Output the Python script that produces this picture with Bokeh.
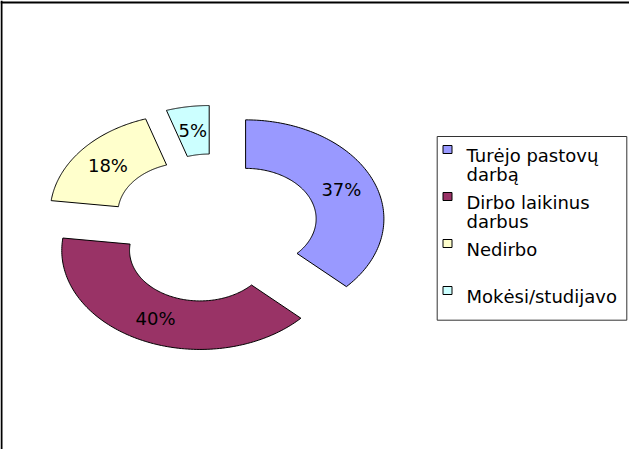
import numpy as np
from bokeh.plotting import figure
from bokeh.models import Range1d, Span
from bokeh.core.properties import value
from bokeh.embed import file_html
from bokeh.resources import INLINE

# ---- data ----
categories = ["Turėjo pastovų\ndarbą", "Dirbo laikinus\ndarbus", "Nedirbo", "Mokėsi/studijavo"]
values = [37, 40, 18, 5]
colors = ["#9999FF", "#993366", "#FFFFCC", "#CCFFFF"]
pct_labels = [f"{v}%" for v in values]

# ---- layout constants ----
W, H = 629, 449
SX, SY = 138.3, 99.0        # px per data unit (horizontal / vertical)
CX, CY = 214.0, 228.0       # donut centre in frame px (from top-left)
HOLE = 0.51
EXPLODE = 0.245
FONT = value("DejaVu Sans")
FSIZE = "18px"

x0 = -CX / SX
x1 = (W - CX) / SX
y1 = CY / SY
y0 = -(H - CY) / SY


def dx(px):
    return x0 + px / SX


def dy(py):
    return y1 - py / SY


p = figure(width=W, height=H, x_range=Range1d(x0, x1), y_range=Range1d(y0, y1),
           output_backend="svg", toolbar_location=None, min_border=0,
           x_axis_type=None, y_axis_type=None)
p.grid.visible = False
p.outline_line_color = None
p.background_fill_color = "white"
p.border_fill_color = "white"

# ---- donut slices (exploded) ----
fr = np.array(values, dtype=float) / sum(values)
ends = np.cumsum(fr) * 2 * np.pi
starts = ends - fr * 2 * np.pi
xs, ys, lx, ly = [], [], [], []
for a0, a1 in zip(starts, ends):
    mid = (a0 + a1) / 2
    ox, oy = EXPLODE * np.sin(mid), EXPLODE * np.cos(mid)
    t = np.linspace(a0, a1, 120)
    px = np.concatenate([np.sin(t), HOLE * np.sin(t[::-1])]) + ox
    py = np.concatenate([np.cos(t), HOLE * np.cos(t[::-1])]) + oy
    xs.append(px.tolist())
    ys.append(py.tolist())
    r = (1 + HOLE) / 2
    lx.append(ox + r * np.sin(mid))
    ly.append(oy + r * np.cos(mid))

p.patches(xs, ys, fill_color=colors, line_color="black", line_width=1)
p.text(lx, ly, text=pct_labels, text_align="center", text_baseline="middle",
       text_font=FONT, text_font_size=FSIZE, text_color="black")

# ---- chart border (left & top visible) ----
p.add_layout(Span(location=dx(1), dimension="height", line_color="black", line_width=2))
p.add_layout(Span(location=dy(2), dimension="width", line_color="black", line_width=2))

# ---- legend ----
p.quad(left=[dx(436.7)], right=[dx(626.3)], top=[dy(136)], bottom=[dy(319.7)],
       fill_color="white", line_color="#333333", line_width=1)
sq_x, sq_y0, step = 447.0, 149.0, 47.0
text_x, line_h = 466.0, 19.5
sqx, sqy, tx, ty, tt = [], [], [], [], []
for i, cat in enumerate(categories):
    cy = sq_y0 + i * step
    sqx.append(dx(sq_x))
    sqy.append(dy(cy))
    for j, line in enumerate(cat.split("\n")):
        tx.append(dx(text_x))
        ty.append(dy(cy + 5.5 + j * line_h))
        tt.append(line)
p.rect(sqx, sqy, width=9, height=8, width_units="screen", height_units="screen",
       fill_color=colors, line_color="black", line_width=1)
p.text(tx, ty, text=tt, text_align="left", text_baseline="alphabetic",
       text_font=FONT, text_font_size=FSIZE, text_color="black")

open("out.html", "w").write(file_html(p, INLINE))
